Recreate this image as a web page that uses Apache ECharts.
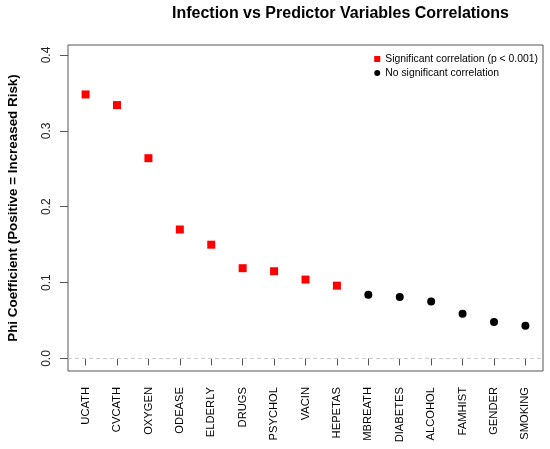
<!DOCTYPE html>
<html>
<head>
<meta charset="utf-8">
<title>Infection vs Predictor Variables Correlations</title>
<script src="https://cdn.jsdelivr.net/npm/echarts@6/dist/echarts.min.js"></script>
<style>
  html, body { margin: 0; padding: 0; background: #fff; }
  #main { width: 550px; height: 449px; }
</style>
</head>
<body>
<div id="main"></div>
<script>
// variables, in plotted order
const categories = ['UCATH', 'CVCATH', 'OXYGEN', 'ODEASE', 'ELDERLY', 'DRUGS', 'PSYCHOL',
  'VACIN', 'HEPETAS', 'MBREATH', 'DIABETES', 'ALCOHOL', 'FAMHIST', 'GENDER', 'SMOKING'];
// phi coefficient for each variable
const phiValues = [0.348, 0.334, 0.264, 0.170, 0.150, 0.119, 0.115,
  0.104, 0.096, 0.084, 0.081, 0.075, 0.059, 0.048, 0.043];
// true = p < 0.001
const significant = [true, true, true, true, true, true, true,
  true, true, false, false, false, false, false, false];
const yTicks = [0, 0.1, 0.2, 0.3, 0.4];

const sigData = [];
const nsData = [];
categories.forEach((c, i) => {
  const pt = [i + 1, phiValues[i]];
  if (significant[i]) sigData.push(pt); else nsData.push(pt);
});

const chart = echarts.init(document.getElementById('main'));
const font = 'Liberation Sans, Arial, sans-serif';

chart.setOption({
  animation: false,
  backgroundColor: '#fff',
  textStyle: { fontFamily: font },
  title: {
    text: 'Infection vs Predictor Variables Correlations',
    left: 172,
    top: 6,
    padding: 0,
    textStyle: { fontSize: 16, fontWeight: 'bold', color: '#000', fontFamily: font }
  },
  legend: {
    orient: 'vertical',
    right: 12,
    top: 54,
    padding: 0,
    itemGap: 4,
    itemWidth: 6,
    itemHeight: 6,
    itemStyle: { opacity: 1 },
    textStyle: { fontSize: 10.4, color: '#000', fontFamily: font },
    data: ['Significant correlation (p < 0.001)', 'No significant correlation']
  },
  grid: {
    left: 68, right: 7, top: 45, bottom: 78,
    outerBoundsMode: 'none',
    containLabel: false,
    show: true, borderColor: '#555', borderWidth: 1
  },
  xAxis: {
    type: 'value',
    min: 0.44,
    max: 15.56,
    splitLine: { show: false },
    axisLine: { show: false },
    axisTick: {
      customValues: categories.map((c, i) => i + 1),
      length: 7,
      lineStyle: { color: '#555' }
    },
    axisLabel: {
      customValues: categories.map((c, i) => i + 1),
      rotate: 90,
      margin: 16,
      fontSize: 11.2,
      color: '#000',
      formatter: v => categories[Math.round(v) - 1] || ''
    }
  },
  yAxis: {
    type: 'value',
    min: -0.0165,
    max: 0.4132,
    name: 'Phi Coefficient (Positive = Increased Risk)',
    nameLocation: 'middle',
    nameGap: 48,
    nameTextStyle: { fontSize: 13.4, fontWeight: 'bold', color: '#000', fontFamily: font },
    splitLine: { show: false },
    axisLine: { show: false },
    axisTick: { customValues: yTicks, length: 8, lineStyle: { color: '#555' } },
    axisLabel: {
      customValues: yTicks,
      rotate: 90,
      margin: 15,
      fontSize: 12,
      color: '#222',
      formatter: v => v.toFixed(1)
    }
  },
  series: [
    {
      name: 'Significant correlation (p < 0.001)',
      type: 'scatter',
      symbol: 'rect',
      symbolSize: 8,
      itemStyle: { color: '#ff0000', opacity: 1 },
      data: sigData,
      markLine: {
        silent: true,
        symbol: 'none',
        label: { show: false },
        lineStyle: { color: '#cccccc', type: [4, 3], width: 1 },
        data: [{ yAxis: 0 }]
      }
    },
    {
      name: 'No significant correlation',
      type: 'scatter',
      symbol: 'circle',
      symbolSize: 8,
      itemStyle: { color: '#000', opacity: 1 },
      data: nsData
    }
  ]
});
</script>
</body>
</html>
